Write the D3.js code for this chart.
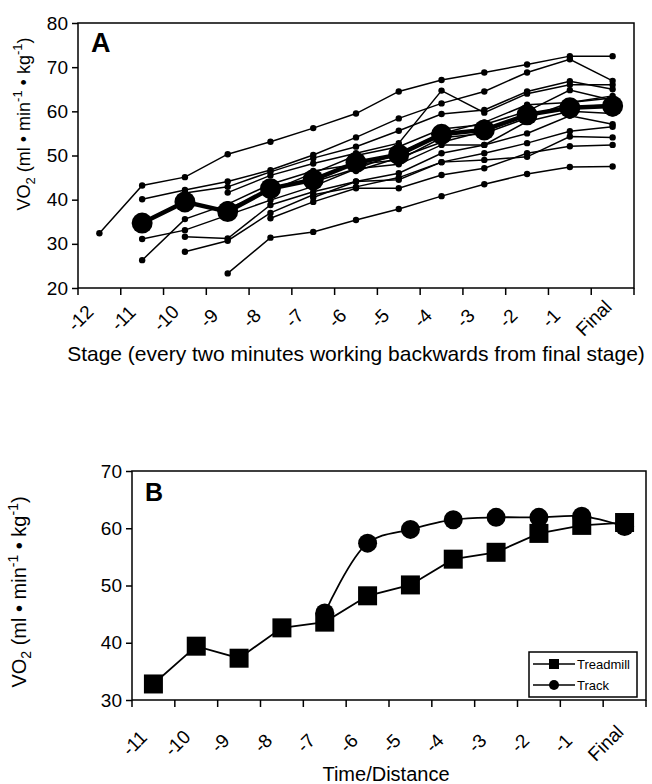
<!DOCTYPE html>
<html>
<head>
<meta charset="utf-8">
<script src="https://cdn.jsdelivr.net/npm/d3@7"></script>
<style>
  body { margin: 0; background: #fff; }
  svg { font-family: "Liberation Sans", Arial, sans-serif; }
</style>
</head>
<body>
<div id="chart"></div>
<script>
// ---- panel A data: stages counted back from the final stage ----
const stagesA = ["-12", "-11", "-10", "-9", "-8", "-7", "-6", "-5", "-4", "-3", "-2", "-1", "Final"];
// each subject: values per stage (null = no measurement at that stage)
const subject1  = [32.4, 43.2, 45.1, 50.3, 53.1, 56.2, 59.5, 64.5, 67.1, 68.8, 70.6, 72.5, 72.5];
const subject2  = [null, 40.1, 42.2, 44.1, 46.7, 50.1, 54.1, 58.4, 61.8, 64.5, 68.8, 71.8, 66.9];
const subject3  = [null, null, null, 41.6, 45.5, 48.2, 50.5, 52.8, 64.7, 59.7, 64.0, 66.0, 66.0];
const subject4  = [null, null, 41.5, 42.9, 46.3, 49.4, 52.0, 55.6, 59.4, 60.3, 64.5, 66.8, 65.0];
const subject5  = [null, null, null, 38.0, 42.0, 46.0, 50.0, 52.0, 56.0, 57.0, 60.0, 64.8, 62.5];
const subject6  = [null, 26.3, 35.6, 39.0, 43.5, 46.5, 48.0, 49.0, 54.0, 55.0, 58.5, 62.0, 63.0];
const subject7  = [null, 31.1, 33.1, 36.5, 39.9, 43.0, 47.0, 48.0, 52.4, 52.4, 57.7, 60.0, 59.5];
const subject8  = [null, null, 31.6, 31.2, 38.8, 41.8, 44.1, 46.0, 50.5, 52.4, 55.0, 59.0, 57.1];
const subject9  = [null, null, 28.2, 30.7, 37.0, 41.1, 42.9, 45.0, 48.5, 50.5, 52.8, 55.5, 56.5];
const subject10 = [null, null, null, 23.3, 31.4, 32.7, 35.4, 37.9, 40.8, 43.5, 45.8, 47.4, 47.5];
const subject11 = [null, null, null, null, 35.8, 39.5, 42.6, 42.6, 45.6, 47.1, 50.5, 52.1, 52.4];
const subject12 = [null, null, null, null, null, 40.5, 44.1, 44.5, 48.5, 49.0, 49.7, 54.3, 54.1];
const subject13 = [null, null, null, null, null, 44.0, 47.0, 50.5, 55.0, 57.5, 61.5, 62.0, 63.5];
const subject14 = [null, null, null, null, null, null, 46.5, 49.5, 53.0, 55.5, 59.0, 61.0, 61.5];
const subjects = [subject1, subject2, subject3, subject4, subject5, subject6, subject7,
                  subject8, subject9, subject10, subject11, subject12, subject13, subject14];
const meanA = [null, 34.7, 39.5, 37.3, 42.5, 44.5, 48.4, 50.2, 54.8, 55.8, 59.2, 60.8, 61.2];
const yTicksA = [20, 30, 40, 50, 60, 70, 80];

// ---- panel B data ----
const stagesB = ["-11", "-10", "-9", "-8", "-7", "-6", "-5", "-4", "-3", "-2", "-1", "Final"];
const treadmill = [32.8, 39.4, 37.3, 42.6, 43.6, 48.2, 50.1, 54.6, 55.8, 59.1, 60.5, 61.0];
const track     = [null, null, null, null, 45.2, 57.4, 59.8, 61.5, 61.9, 61.9, 62.1, 60.3];
const yTicksB = [30, 40, 50, 60, 70];

const W = 652, H = 784;
const svg = d3.select("#chart").append("svg")
    .attr("width", W)
    .attr("height", H);

// y axis title with sub/superscripts
function vo2Title(g, x, y, size) {
    let small = Math.round(size * 0.7);
    let t = g.append("text")
        .attr("transform", "translate(" + x + "," + y + ") rotate(-90)")
        .attr("text-anchor", "middle")
        .style("font-size", size + "px");
    t.append("tspan").text("VO");
    t.append("tspan").attr("dy", 5).style("font-size", small + "px").text("2");
    t.append("tspan").attr("dy", -5).text(" (ml \u2022 min");
    t.append("tspan").attr("dy", -8).style("font-size", small + "px").text("-1");
    t.append("tspan").attr("dy", 8).text(" \u2022 kg");
    t.append("tspan").attr("dy", -8).style("font-size", small + "px").text("-1");
    t.append("tspan").attr("dy", 8).text(")");
}

function drawFrame(g, x, y, n, yTicks, labels, labelDx, labelY) {
    let [x0, x1] = x.range();
    let [y0, y1] = y.range();
    // box
    g.append("rect")
        .attr("x", x0).attr("y", y1)
        .attr("width", x1 - x0).attr("height", y0 - y1)
        .attr("fill", "none").attr("stroke", "#000").attr("stroke-width", 1.5);

    // y axis ticks + labels
    let yAxis = g.append("g")
        .attr("transform", "translate(" + x0 + ",0)")
        .call(d3.axisLeft(y).tickValues(yTicks).tickSize(6).tickPadding(4));
    yAxis.select(".domain").remove();
    yAxis.selectAll("line").attr("stroke-width", 1.5);
    yAxis.selectAll("text").style("font-size", "19px").style("font-family", "inherit").attr("fill", "#000");

    // x ticks at band boundaries
    let bounds = d3.range(n + 1).map(i => x0 + i * x.step());
    g.append("g").selectAll("line")
        .data(bounds)
        .enter().append("line")
        .attr("x1", d => d).attr("x2", d => d)
        .attr("y1", y0).attr("y2", y0 + 7)
        .attr("stroke", "#000").attr("stroke-width", 1.5);

    // rotated category labels, centred below each band
    g.append("g").selectAll("text")
        .data(labels)
        .enter().append("text")
        .attr("transform", d => "translate(" + (x(d) + x.bandwidth() / 2 + labelDx) + "," + labelY + ") rotate(-45)")
        .attr("text-anchor", "middle")
        .attr("dy", "0.35em")
        .style("font-size", "19px")
        .text(d => d);
}

// ================= Panel A =================
const gA = svg.append("g");
const xA = d3.scaleBand().domain(stagesA).range([78, 634]).padding(0);
const yA = d3.scaleLinear().domain([20, 80]).range([288, 23]);
const cxA = i => xA(stagesA[i]) + xA.bandwidth() / 2;

drawFrame(gA, xA, yA, stagesA.length, yTicksA, stagesA, -19, 318);

const lineA = d3.line()
    .defined(d => d != null)
    .x((d, i) => cxA(i))
    .y(d => yA(d));

subjects.forEach(s => {
    gA.append("path")
        .attr("d", lineA(s))
        .attr("fill", "none")
        .attr("stroke", "#000")
        .attr("stroke-width", 1.5);
    gA.append("g").selectAll("circle")
        .data(s.map((v, i) => ({v, i})).filter(d => d.v != null))
        .enter().append("circle")
        .attr("cx", d => cxA(d.i))
        .attr("cy", d => yA(d.v))
        .attr("r", 3.2)
        .attr("fill", "#000");
});

gA.append("path")
    .attr("d", lineA(meanA))
    .attr("fill", "none")
    .attr("stroke", "#000")
    .attr("stroke-width", 4.5);
gA.append("g").selectAll("circle")
    .data(meanA.map((v, i) => ({v, i})).filter(d => d.v != null))
    .enter().append("circle")
    .attr("cx", d => cxA(d.i))
    .attr("cy", d => yA(d.v))
    .attr("r", 10.5)
    .attr("fill", "#000");

gA.append("text")
    .attr("x", 91).attr("y", 52)
    .style("font-size", "27px").style("font-weight", "bold")
    .text("A");

vo2Title(gA, 30, 124, 18);

gA.append("text")
    .attr("x", 356).attr("y", 361)
    .attr("text-anchor", "middle")
    .style("font-size", "21px")
    .text("Stage (every two minutes working backwards from final stage)");

// ================= Panel B =================
const gB = svg.append("g");
const xB = d3.scaleBand().domain(stagesB).range([132, 646]).padding(0);
const yB = d3.scaleLinear().domain([30, 70]).range([700, 471]);
const cxB = i => xB(stagesB[i]) + xB.bandwidth() / 2;

drawFrame(gB, xB, yB, stagesB.length, yTicksB, stagesB, -19, 743);

const lineB = d3.line()
    .defined(d => d != null)
    .x((d, i) => cxB(i))
    .y(d => yB(d));

// track (smoothed) drawn first, treadmill on top
gB.append("path")
    .attr("d", lineB.curve(d3.curveCatmullRom.alpha(0.5))(track))
    .attr("fill", "none").attr("stroke", "#000").attr("stroke-width", 1.8);
gB.append("g").selectAll("circle")
    .data(track.map((v, i) => ({v, i})).filter(d => d.v != null))
    .enter().append("circle")
    .attr("cx", d => cxB(d.i))
    .attr("cy", d => yB(d.v))
    .attr("r", 9.5)
    .attr("fill", "#000");

gB.append("path")
    .attr("d", lineB.curve(d3.curveLinear)(treadmill))
    .attr("fill", "none").attr("stroke", "#000").attr("stroke-width", 1.8);
gB.append("g").selectAll("rect")
    .data(treadmill.map((v, i) => ({v, i})))
    .enter().append("rect")
    .attr("x", d => cxB(d.i) - 9.5)
    .attr("y", d => yB(d.v) - 9.5)
    .attr("width", 19).attr("height", 19)
    .attr("fill", "#000");

gB.append("text")
    .attr("x", 145).attr("y", 501)
    .style("font-size", "25px").style("font-weight", "bold")
    .text("B");

vo2Title(gB, 26, 592, 20);

gB.append("text")
    .attr("x", 386).attr("y", 781)
    .attr("text-anchor", "middle")
    .style("font-size", "20px")
    .text("Time/Distance");

// legend
const legend = gB.append("g").attr("transform", "translate(529,652)");
legend.append("rect")
    .attr("width", 108).attr("height", 45)
    .attr("fill", "#fff").attr("stroke", "#000").attr("stroke-width", 1.5);
const legItems = [{name: "Treadmill", shape: "square"}, {name: "Track", shape: "circle"}];
const li = legend.selectAll("g.item")
    .data(legItems)
    .enter().append("g")
    .attr("class", "item")
    .attr("transform", (d, i) => "translate(0," + (12 + i * 21) + ")");
li.append("line")
    .attr("x1", 4).attr("x2", 46)
    .attr("stroke", "#000").attr("stroke-width", 1.5);
li.filter(d => d.shape === "square").append("rect")
    .attr("x", 20).attr("y", -5).attr("width", 10).attr("height", 10).attr("fill", "#000");
li.filter(d => d.shape === "circle").append("circle")
    .attr("cx", 25).attr("r", 5).attr("fill", "#000");
li.append("text")
    .attr("x", 48).attr("dy", "0.35em")
    .style("font-size", "13px")
    .text(d => d.name);
</script>
</body>
</html>
